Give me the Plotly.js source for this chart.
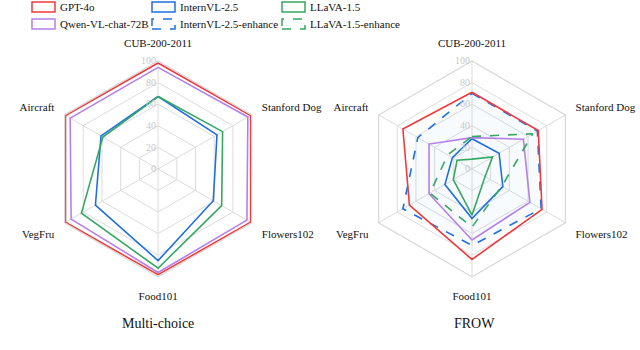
<!DOCTYPE html>
<html>
<head>
<meta charset="utf-8">
<script src="https://cdn.plot.ly/plotly-3.0.1.min.js"></script>
<style>
  body { margin: 0; background: #fff; }
  #chart { width: 640px; height: 350px; }
</style>
</head>
<body>
<div id="chart"></div>
<script>
// Datasets (clockwise from top)
let categories = ["CUB-200-2011", "Stanford Dog", "Flowers102", "Food101", "VegFru", "Aircraft"]

// Multi-choice accuracy
let gpt4o_mc  = [98, 99, 99, 98, 99, 99]
let qwen_mc   = [94, 96, 95, 96, 93, 94]
let intern_mc = [67, 63, 59, 85, 67, 61]
let llava_mc  = [67, 69, 68, 92, 82, 59]

// FROW scores
let gpt4o_frow     = [71, 71, 75, 84, 67, 74]
let qwen_frow      = [29, 55, 62, 66, 46, 46]
let intern_frow    = [28, 29, 33, 46, 29, 21]
let llava_frow     = [9, 22, 14, 43, 20, 16]
let internEnh_frow = [70, 70, 74, 71, 74, 58]
let llavaEnh_frow  = [30, 65, 32, 54, 45, 26]

let seriesNames = ["GPT-4o", "Qwen-VL-chat-72B", "InternVL-2.5", "InternVL-2.5-enhance", "LLaVA-1.5", "LLaVA-1.5-enhance"]
let radialTicks = [0, 20, 40, 60, 80, 100]
let panelTitles = ["Multi-choice", "FROW"]

let colors = {
    "GPT-4o": "#f0393c",
    "Qwen-VL-chat-72B": "#b57fe6",
    "InternVL-2.5": "#1f6fe0",
    "InternVL-2.5-enhance": "#1f6fe0",
    "LLaVA-1.5": "#35a862",
    "LLaVA-1.5-enhance": "#35a862"
}
let dashes = {
    "InternVL-2.5-enhance": "dash",
    "LLaVA-1.5-enhance": "dash"
}

function closeLoop(arr) {
    return arr.concat([arr[0]])
}

function makeTrace(values, name, subplot, extra = {}) {
    return {
        type: 'scatterpolar',
        r: closeLoop(values),
        theta: closeLoop(categories),
        mode: 'lines',
        name: name,
        subplot: subplot,
        showlegend: false,
        line: { color: colors[name], width: 1.6, dash: dashes[name] || 'solid' },
        hoverinfo: 'skip',
        ...extra
    }
}

let traces = [
    makeTrace(intern_mc, "InternVL-2.5", 'polar'),
    makeTrace(llava_mc, "LLaVA-1.5", 'polar'),
    makeTrace(qwen_mc, "Qwen-VL-chat-72B", 'polar'),
    makeTrace(gpt4o_mc, "GPT-4o", 'polar'),

    makeTrace(internEnh_frow, "InternVL-2.5-enhance", 'polar2', { fill: 'toself', fillcolor: 'rgba(60,130,220,0.035)' }),
    makeTrace(llava_frow, "LLaVA-1.5", 'polar2'),
    makeTrace(intern_frow, "InternVL-2.5", 'polar2'),
    makeTrace(qwen_frow, "Qwen-VL-chat-72B", 'polar2'),
    makeTrace(llavaEnh_frow, "LLaVA-1.5-enhance", 'polar2'),
    makeTrace(gpt4o_frow, "GPT-4o", 'polar2')
]

function polarLayout(xdom) {
    return {
        domain: { x: xdom, y: [0.209, 0.826] },
        gridshape: 'linear',
        bgcolor: 'rgba(0,0,0,0)',
        radialaxis: {
            range: [0, 100],
            tickvals: radialTicks,
            angle: 90,
            tickangle: 90,
            side: 'counterclockwise',
            showline: false,
            ticks: '',
            gridcolor: '#dcdcdc',
            tickfont: { family: 'Liberation Serif', size: 10, color: '#c8c8c8' }
        },
        angularaxis: {
            direction: 'clockwise',
            rotation: 90,
            linecolor: '#d8d8d8',
            linewidth: 1.2,
            gridcolor: '#dcdcdc',
            ticks: 'outside',
            ticklen: 9,
            tickcolor: 'rgba(0,0,0,0)',
            tickfont: { family: 'Liberation Serif', size: 11, color: '#111' }
        }
    }
}

// hand made legend: outline boxes like the original
let legendCols = [32, 152, 282]
let legendRows = [7, 24]
let legendOrder = [
    ["GPT-4o", "InternVL-2.5", "LLaVA-1.5"],
    ["Qwen-VL-chat-72B", "InternVL-2.5-enhance", "LLaVA-1.5-enhance"]
]
let shapes = []
let annotations = []
legendOrder.forEach((row, ri) => {
    row.forEach((name, ci) => {
        let x0 = legendCols[ci]
        let yc = legendRows[ri]
        shapes.push({
            type: 'rect', xref: 'paper', yref: 'paper',
            x0: x0 / 640, x1: (x0 + 23) / 640,
            y0: 1 - (yc + 5) / 350, y1: 1 - (yc - 5) / 350,
            line: { color: colors[name], width: 1.5, dash: dashes[name] || 'solid' },
            fillcolor: 'rgba(0,0,0,0)'
        })
        annotations.push({
            xref: 'paper', yref: 'paper',
            x: (x0 + 26) / 640, y: 1 - yc / 350,
            xanchor: 'left', yanchor: 'middle',
            text: name, showarrow: false,
            font: { family: 'Liberation Serif', size: 11, color: '#111' }
        })
    })
})
panelTitles.forEach((t, i) => {
    annotations.push({
        xref: 'paper', yref: 'paper',
        x: [158, 474][i] / 640, y: 1 - 323 / 350,
        xanchor: 'center', yanchor: 'middle',
        text: t, showarrow: false,
        font: { family: 'Liberation Serif', size: 14, color: '#111' }
    })
})

let layout = {
    width: 640,
    height: 350,
    margin: { l: 0, r: 0, t: 0, b: 0 },
    paper_bgcolor: '#fff',
    showlegend: false,
    polar: polarLayout([0.078, 0.416]),
    polar2: polarLayout([0.569, 0.906]),
    shapes: shapes,
    annotations: annotations
}

Plotly.newPlot('chart', traces, layout, { staticPlot: true })
</script>
</body>
</html>
